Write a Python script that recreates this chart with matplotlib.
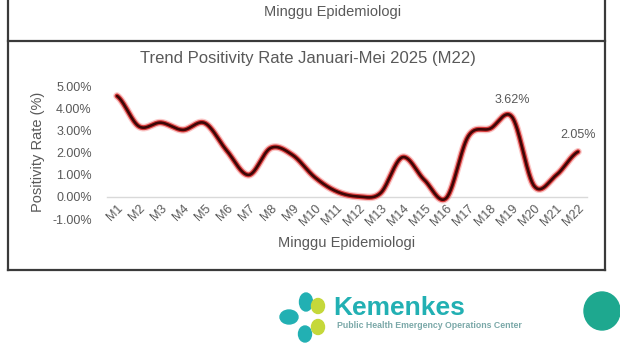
import numpy as np
import matplotlib
matplotlib.use("Agg")
import matplotlib.pyplot as plt
from matplotlib.lines import Line2D
from matplotlib.patches import Ellipse

# ---- data ----
weeks = ["M%d" % i for i in range(1, 23)]
positivity = [4.58, 3.20, 3.37, 3.04, 3.35, 2.10, 1.00, 2.22, 1.90, 0.90, 0.25,
              0.02, 0.17, 1.80, 0.77, -0.05, 2.75, 3.10, 3.62, 0.50, 0.98, 2.05]
y_ticks = [-1, 0, 1, 2, 3, 4, 5]
y_tick_labels = ["-1.00%", "0.00%", "1.00%", "2.00%", "3.00%", "4.00%", "5.00%"]
labelled = {"M19": "3.62%", "M22": "2.05%"}
title = "Trend Positivity Rate Januari-Mei 2025 (M22)"
xlabel = "Minggu Epidemiologi"
ylabel = "Positivity Rate (%)"

plt.rcParams['font.family'] = ['Liberation Sans', 'DejaVu Sans']
W, H = 620, 348
fig = plt.figure(figsize=(W / 100, H / 100), dpi=100)
fig.patch.set_facecolor("white")

def fx(px):
    return px / W

def fy(py):
    return 1 - py / H

# axes placement (pixels)
L, R, T, B = 107, 587, 86.7, 219
ax = fig.add_axes([fx(L), fy(B), fx(R - L), (B - T) / H])
ax.set_facecolor("none")

x = np.arange(len(weeks))
y = np.array(positivity)

# smooth line (Catmull-Rom through the data points, like Excel "smoothed line")
def catmull(xv, yv, n=30):
    px = np.concatenate([[xv[0]], xv, [xv[-1]]])
    py = np.concatenate([[yv[0]], yv, [yv[-1]]])
    xs, ys = [], []
    for i in range(1, len(px) - 2):
        t = np.linspace(0, 1, n, endpoint=(i == len(px) - 3))
        p0, p1, p2, p3 = py[i - 1], py[i], py[i + 1], py[i + 2]
        m1 = (p2 - p0) / 2
        m2 = (p3 - p1) / 2
        h00 = 2 * t**3 - 3 * t**2 + 1
        h10 = t**3 - 2 * t**2 + t
        h01 = -2 * t**3 + 3 * t**2
        h11 = t**3 - t**2
        ys.append(h00 * p1 + h10 * m1 + h01 * p2 + h11 * m2)
        xs.append(px[i] + t * (px[i + 1] - px[i]))
    return np.concatenate(xs), np.concatenate(ys)

sx, sy = catmull(x.astype(float), y)
ax.plot(sx, sy, color="#f06060", lw=5.5, alpha=0.35, solid_capstyle="round", zorder=3)
ax.plot(sx, sy, color="#d02020", lw=3.6, alpha=0.85, solid_capstyle="round", zorder=3)
ax.plot(sx, sy, color="#3d0606", lw=1.9, solid_capstyle="round", zorder=4)

ax.set_xlim(-(117 - L) / 21.95, 21 + (R - 578) / 21.95)
ax.set_ylim(-1, 5)

for s in ["top", "right", "left"]:
    ax.spines[s].set_visible(False)
ax.spines["bottom"].set_position(("data", 0))
ax.spines["bottom"].set_color("#d9d9d9")
ax.spines["bottom"].set_linewidth(1.0)

ax.set_yticks(y_ticks)
ax.set_yticklabels(y_tick_labels)
ax.set_xticks(x)
ax.set_xticklabels(weeks, rotation=45, ha="right", rotation_mode="anchor")
ax.tick_params(axis="y", length=0, pad=11, labelsize=9, labelcolor="#595959")
ax.tick_params(axis="x", length=0, pad=4, labelsize=9, labelcolor="#595959")

for wk, txt in labelled.items():
    i = weeks.index(wk)
    ax.annotate(txt, (x[i], y[i]), xytext=(0, 12), textcoords="offset points",
                ha="center", va="center", fontsize=9, color="#595959", zorder=5)

fig.text(fx(308), fy(58), title, ha="center", va="center", fontsize=12, color="#595959")
fig.text(fx(347), fy(243), xlabel, ha="center", va="center", fontsize=10.5, color="#595959")
fig.text(fx(38), fy(152), ylabel, ha="center", va="center", rotation=90, fontsize=10.5,
         color="#595959")

# previous panel remnant at the top
fig.text(fx(333), fy(12), xlabel, ha="center", va="center", fontsize=10.5, color="#595959")

# frame lines
frame_c = "#3a3a3a"
for (x0, y0, x1, y1) in [(8, 0, 8, 270), (605, 0, 605, 270), (8, 41, 605, 41), (8, 270, 605, 270)]:
    fig.add_artist(Line2D([fx(x0), fx(x1)], [fy(y0), fy(y1)], transform=fig.transFigure,
                          color=frame_c, lw=1.6))

# Kemenkes logo
teal = "#22b0b3"
lime = "#c5d83a"
def ell(cx, cy, w, h, c, ang=0):
    fig.add_artist(Ellipse((fx(cx), fy(cy)), w / W, h / H, angle=ang, color=c,
                           transform=fig.transFigure))
ell(289, 317, 18, 14, teal)
ell(306, 302, 13, 18, teal)
ell(305, 334, 13, 16, teal)
ell(318, 306, 13, 15, lime)
ell(318, 327, 13, 15, lime)
fig.text(fx(333), fy(308), "Kemenkes", ha="left", va="center", fontsize=19,
         fontweight="bold", color=teal)
fig.text(fx(337), fy(326), "Public Health Emergency Operations Center", ha="left",
         va="center", fontsize=6.3, fontweight="bold", color="#7aa8a8")

# right teal circle
fig.add_artist(Ellipse((fx(602), fy(311)), 36 / W, 38 / H, color="#1ea88f",
                       transform=fig.transFigure))

fig.savefig("out.png", dpi=100)
